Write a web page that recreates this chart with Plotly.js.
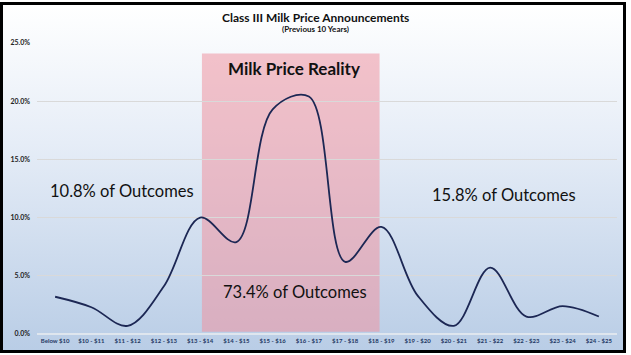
<!DOCTYPE html>
<html><head><meta charset="utf-8">
<script src="https://cdn.plot.ly/plotly-3.0.1.min.js"></script>
<style>
html,body{margin:0;padding:0;background:#fff;}
#frame{position:absolute;left:0;top:2px;width:620px;height:345px;border:3px solid #000;
background:linear-gradient(to bottom,#ffffff 0%,#e6edf7 40%,#b9cde6 100%);}
#chart{position:absolute;left:-3px;top:-5px;width:631px;height:355px;}
</style></head>
<body>
<div id="frame"><div id="chart"></div></div>
<script>
var categories = ["Below $10","$10 - $11","$11 - $12","$12 - $13","$13 - $14","$14 - $15","$15 - $16","$16 - $17","$17 - $18","$18 - $19","$19 - $20","$20 - $21","$21 - $22","$22 - $23","$23 - $24","$24 - $25"];
var sharePct = [3.2, 2.3, 0.7, 4.1, 10.0, 7.9, 19.3, 20.4, 6.2, 9.2, 3.3, 0.7, 5.7, 1.5, 2.4, 1.5];
var yTicks = [0, 5, 10, 15, 20, 25];
var titleText = "<b>Class III Milk Price Announcements</b>";
var subtitleText = "<b>(Previous 10 Years)</b>";
var realityLabel = "Milk Price Reality";
var belowLabel = "10.8% of Outcomes";
var insideLabel = "73.4% of Outcomes";
var aboveLabel = "15.8% of Outcomes";

var font = "Lato, 'Open Sans', sans-serif";
var trace = {
  x: categories, y: sharePct, type: "scatter", mode: "lines",
  line: {shape: "spline", smoothing: 1, color: "#1c2754", width: 1.8},
  hoverinfo: "skip"
};
var layout = {
  width: 631, height: 355,
  margin: {l: 37, r: 14, t: 43, b: 21},
  paper_bgcolor: "rgba(0,0,0,0)", plot_bgcolor: "rgba(0,0,0,0)",
  showlegend: false,
  xaxis: {type: "category", range: [-0.5, 15.5], showgrid: false, showline: false, ticks: "",
    tickfont: {family: font, size: 6, color: "#1f3864", weight: "bold"}, tickangle: 0, ticklabelstandoff: 2},
  yaxis: {range: [0, 25], tickvals: yTicks, ticktext: yTicks.map(function(v){return v.toFixed(1)+"%";}),
    showgrid: true, gridcolor: "#d9d9d9", gridwidth: 1, zeroline: true, zerolinecolor: "#dfe6ee", zerolinewidth: 2,
    ticks: "", tickfont: {family: font, size: 7, color: "#222", weight: "bold"}, ticklabelstandoff: 6},
  shapes: [{type: "rect", xref: "x", yref: "y", x0: 4.05, x1: 8.95, y0: 0.2, y1: 24.1,
    fillcolor: "rgba(239,148,160,0.55)", line: {width: 0}, layer: "below"}],
  annotations: [
    {text: titleText, xref: "paper", yref: "paper", x: 0.48, y: 1.089, xanchor: "center", yanchor: "middle", showarrow: false,
      font: {family: font, size: 12, color: "#111"}},
    {text: subtitleText, xref: "paper", yref: "paper", x: 0.48, y: 1.048, xanchor: "center", yanchor: "middle", showarrow: false,
      font: {family: font, size: 8, color: "#111"}},
    {text: realityLabel, xref: "x", yref: "y", x: 6.6, y: 22.85, showarrow: false,
      font: {family: font, size: 17, color: "#111", weight: "bold"}},
    {text: belowLabel, xref: "x", yref: "y", x: 1.85, y: 12.3, showarrow: false,
      font: {family: font, size: 16.5, color: "#111"}},
    {text: insideLabel, xref: "x", yref: "y", x: 6.62, y: 3.63, showarrow: false,
      font: {family: font, size: 16.5, color: "#111"}},
    {text: aboveLabel, xref: "x", yref: "y", x: 12.38, y: 11.95, showarrow: false,
      font: {family: font, size: 16.5, color: "#111"}}
  ]
};
Plotly.newPlot("chart", [trace], layout, {displayModeBar: false, staticPlot: true});
</script>
</body></html>
